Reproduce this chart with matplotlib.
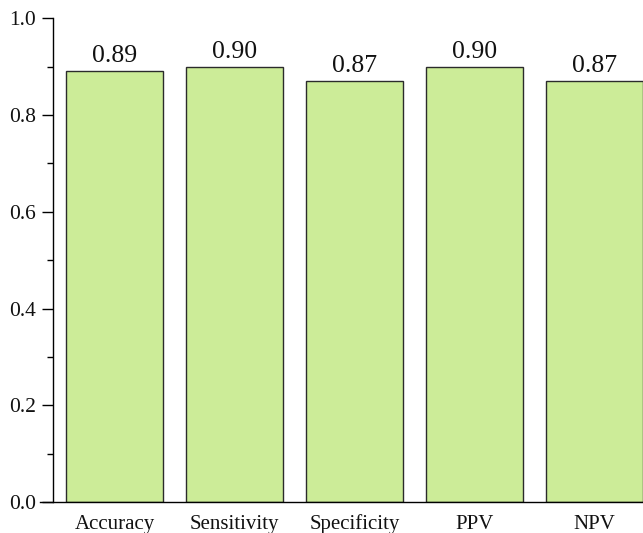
import matplotlib.pyplot as plt
from matplotlib.ticker import MultipleLocator

plt.rcParams['font.family'] = ['Liberation Serif', 'DejaVu Serif']

metrics = ['Accuracy', 'Sensitivity', 'Specificity', 'PPV', 'NPV']
values = [0.89, 0.90, 0.87, 0.90, 0.87]
labels = ['0.89', '0.90', '0.87', '0.90', '0.87']

fig = plt.figure(figsize=(6.43, 5.33), dpi=100)
ax = fig.add_axes([0.0824, 0.058, 0.9176, 0.908])

x = range(len(metrics))
bars = ax.bar(x, values, width=0.81, color='#ccec98', edgecolor='#2b2b2b', linewidth=1.0)

# value labels above bars
for b, lab in zip(bars, labels):
    ax.text(b.get_x() + b.get_width() / 2, b.get_height() + 0.008, lab,
            ha='center', va='bottom', fontsize=18.5, color='#111111')

ax.set_xlim(-0.513, 4.405)
ax.set_ylim(0, 1.0)
ax.yaxis.set_minor_locator(MultipleLocator(0.1))
ax.set_yticks([0.0, 0.2, 0.4, 0.6, 0.8, 1.0])
ax.set_yticklabels(['0.0', '0.2', '0.4', '0.6', '0.8', '1.0'])
ax.set_xticks(list(x))
ax.set_xticklabels(metrics)

ax.spines['top'].set_visible(False)
ax.spines['right'].set_visible(False)
ax.spines['left'].set_linewidth(1.0)
ax.spines['bottom'].set_linewidth(1.0)
ax.spines['bottom'].set_bounds(-0.62, 4.405)

ax.tick_params(axis='y', which='major', direction='out', length=8, width=1.0,
               labelsize=15.5, pad=4, labelcolor='#111111')
ax.tick_params(axis='y', which='minor', direction='out', length=4, width=1.0)
ax.tick_params(axis='x', length=0, labelsize=15, pad=9, labelcolor='#111111')

fig.savefig('out.png', dpi=100)
